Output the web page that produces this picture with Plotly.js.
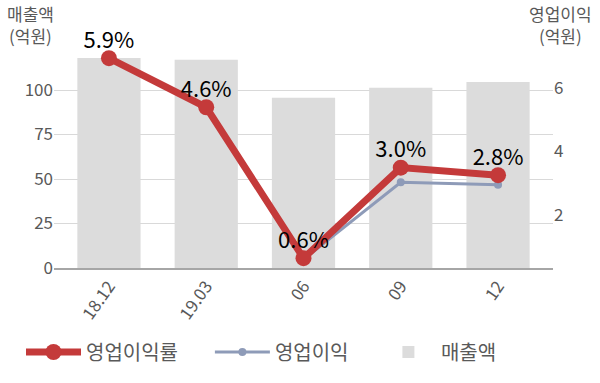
<!DOCTYPE html>
<html>
<head>
<meta charset="utf-8">
<script src="https://cdn.plot.ly/plotly-3.0.1.min.js"></script>
<style>html,body{margin:0;padding:0;background:#fff;}#chart{width:600px;height:383px;}</style>
</head>
<body>
<div id="chart"></div>
<script>
const categories = ["18.12", "19.03", "06", "09", "12"];
const revenue = [118, 117, 95.7, 101.3, 104.5];          // 매출액 (억원)
const operatingIncome = [6.96, 5.38, 0.6, 3.03, 2.95];    // 영업이익 (억원)
const operatingMargin = [5.9, 4.6, 0.6, 3.0, 2.8];        // 영업이익률 (%)
const marginLabels = operatingMargin.map(v => v.toFixed(1) + "%");
const legendNames = ["영업이익률", "영업이익", "매출액"];

const FONT = '"Noto Sans CJK KR", "Noto Sans", sans-serif';
const GREY = '#595959';

const traces = [
  {
    type: 'scatter', mode: 'lines+markers', name: legendNames[0] + '&nbsp;'.repeat(6),
    x: categories, y: operatingMargin, yaxis: 'y3',
    line: {color: '#C43A3A', width: 7},
    marker: {color: '#C43A3A', size: 16},
    cliponaxis: false
  },
  {
    type: 'scatter', mode: 'lines+markers', name: legendNames[1] + '&nbsp;'.repeat(5),
    x: categories, y: operatingIncome, yaxis: 'y2',
    line: {color: '#8E9BB8', width: 3},
    marker: {color: '#8E9BB8', size: 8}
  },
  {
    type: 'bar', name: legendNames[2],
    x: categories, y: revenue, yaxis: 'y',
    marker: {color: '#DCDCDC'}
  },
  {
    type: 'scatter', mode: 'markers+text', showlegend: false,
    x: categories, y: operatingMargin, yaxis: 'y3',
    text: marginLabels, textposition: 'top center',
    textfont: {family: FONT, size: 22, color: '#000'},
    marker: {size: 6, color: 'rgba(0,0,0,0)'},
    cliponaxis: false, hoverinfo: 'skip'
  }
];

const layout = {
  width: 600, height: 383,
  margin: {l: 54, r: 47, t: 45, b: 115, autoexpand: false},
  paper_bgcolor: '#fff', plot_bgcolor: '#fff',
  font: {family: FONT, size: 17, color: GREY},
  bargap: 0.35,
  showlegend: true,
  legend: {
    orientation: 'h', xref: 'container', yref: 'container',
    x: 0.035, xanchor: 'left', y: 1 - 352 / 383, yanchor: 'middle',
    font: {family: FONT, size: 20, color: GREY},
    traceorder: 'normal', itemwidth: 55
  },
  xaxis: {
    type: 'category', range: [-0.565, 4.565], automargin: false,
    showgrid: false, showline: true, linecolor: '#A6A6A6', linewidth: 1.5,
    ticks: '', tickangle: -55, tickfont: {size: 17, color: GREY}, zeroline: false
  },
  yaxis: {
    range: [0, 125.3], tickvals: [0, 25, 50, 75, 100], automargin: false,
    showgrid: true, gridcolor: '#D9D9D9', gridwidth: 1,
    zeroline: false, showline: false, ticks: '',
    tickfont: {size: 17, color: GREY}
  },
  yaxis2: {
    overlaying: 'y', side: 'right', range: [0.33, 7.35], tickvals: [2, 4, 6],
    automargin: false,
    showgrid: false, zeroline: false, showline: false, ticks: '',
    tickfont: {size: 17, color: GREY}
  },
  yaxis3: {
    overlaying: 'y', side: 'right', range: [0.34, 6.25],
    visible: false, showgrid: false, zeroline: false, automargin: false
  },
  annotations: [
    {xref: 'paper', yref: 'paper', x: -0.048, y: 1.094, xanchor: 'center', yanchor: 'middle',
     text: '매출액<br>(억원)', showarrow: false, align: 'center',
     font: {family: FONT, size: 17, color: GREY}},
    {xref: 'paper', yref: 'paper', x: 1.016, y: 1.094, xanchor: 'center', yanchor: 'middle',
     text: '영업이익<br>(억원)', showarrow: false, align: 'center',
     font: {family: FONT, size: 17, color: GREY}}
  ]
};

Plotly.newPlot('chart', traces, layout, {displayModeBar: false, staticPlot: true});
</script>
</body>
</html>
